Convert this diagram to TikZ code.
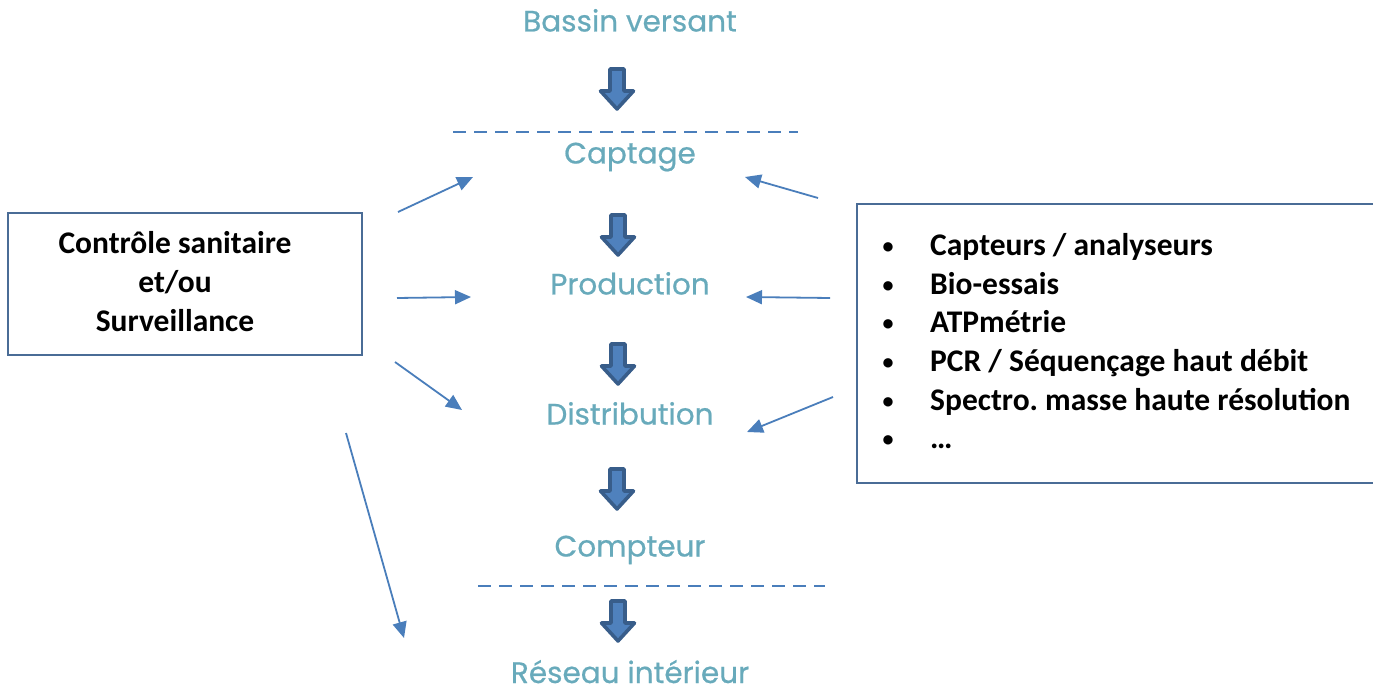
\documentclass[tikz,border=0pt]{standalone}
\usepackage{fontspec}
\setmainfont{Carlito}
\newfontfamily\stagefont[FakeBold=0.6]{Poppins}
\usetikzlibrary{arrows.meta}
\frenchspacing
\definecolor{stage}{HTML}{68AABB}
\definecolor{thinblue}{HTML}{4A7EBB}
\definecolor{arrfill}{HTML}{4F81BD}
\definecolor{arrline}{HTML}{385D8A}
\definecolor{boxline}{HTML}{4A6C96}
\tikzset{
  stagelabel/.style={text=stage, font=\stagefont\fontsize{29.5}{30}\selectfont, inner sep=0pt, anchor=base},
  thinarrow/.style={draw=thinblue, line width=1.8pt, -{Triangle[length=16pt,width=14pt]}},
  dashline/.style={draw=thinblue, line width=1.6pt, dash pattern=on 13pt off 8pt},
  infobox/.style={draw=boxline, line width=1.8pt, inner sep=0pt},
  boxtext/.style={font=\bfseries\fontsize{31.5}{39}\selectfont, align=center, inner sep=0pt},
  itemtext/.style={font=\bfseries\fontsize{31.5}{38}\selectfont, inner sep=0pt, anchor=base west},
  bullettext/.style={font=\bfseries\fontsize{22}{22}\selectfont, inner sep=0pt, anchor=base},
  downarrow/.pic={
    \draw[fill=arrfill, draw=arrline, line width=3.6pt, line join=round]
      (-7,0) -- (7,0) -- (7,22) -- (16.5,22) -- (0,40) -- (-16.5,22) -- (-7,22) -- cycle;
  }
}
\begin{document}
\begin{tikzpicture}[x=1pt,y=-1pt]
\useasboundingbox (0,0) rectangle (1373,692);

% stage labels
\node[stagelabel] (bv) at (630,31.5) {Bassin versant};
\node[stagelabel] (cap) at (630,163.5) {Captage};
\node[stagelabel] (prod) at (630,294.5) {Production};
\node[stagelabel] (dist) at (630,424.5) {Distribution};
\node[stagelabel] (compt) at (630,556.5) {Compteur};
\node[stagelabel] (res) at (630,683) {Réseau intérieur};

% block arrows
\pic at (617,69) {downarrow};
\pic at (618,215) {downarrow};
\pic at (618,344) {downarrow};
\pic at (617,469) {downarrow};
\pic at (618,601) {downarrow};

% dashed lines
\coordinate (d1a) at (453,132); \coordinate (d1b) at (798,132);
\coordinate (d2a) at (478,586); \coordinate (d2b) at (825,586);
\draw[dashline] (d1a) -- (d1b);
\draw[dashline] (d2a) -- (d2b);

% left box
\node[infobox, minimum width=354pt, minimum height=142pt] (lbox) at (185,284) {};
\node[boxtext] (ltext) at (175,282) {Contrôle sanitaire\\et/ou\\Surveillance};

% right box
\node[infobox, minimum width=530pt, minimum height=279pt] (rbox) at (1122,343.5) {};
\node[bullettext] (b1) at (888,254) {•};
\node[itemtext] (t1) at (930,256) {Capteurs / analyseurs};
\node[bullettext] (b2) at (888,292.5) {•};
\node[itemtext] (t2) at (930,294.5) {Bio-essais};
\node[bullettext] (b3) at (888,331) {•};
\node[itemtext] (t3) at (930,333) {ATPmétrie};
\node[bullettext] (b4) at (888,369.5) {•};
\node[itemtext] (t4) at (930,371.5) {PCR / Séquençage haut débit};
\node[bullettext] (b5) at (888,408) {•};
\node[itemtext] (t5) at (930,410) {Spectro. masse haute résolution};
\node[bullettext] (b6) at (888,446.5) {•};
\node[itemtext] (t6) at (930,448.5) {…};

% thin arrows, left
\coordinate (l1s) at (398,212); \coordinate (l1e) at (473,177);
\coordinate (l2s) at (397,298); \coordinate (l2e) at (471,297);
\coordinate (l3s) at (395,362); \coordinate (l3e) at (462,410);
\coordinate (l4s) at (346,433); \coordinate (l4e) at (404,638);
\draw[thinarrow] (l1s) -- (l1e);
\draw[thinarrow] (l2s) -- (l2e);
\draw[thinarrow] (l3s) -- (l3e);
\draw[thinarrow] (l4s) -- (l4e);

% thin arrows, right
\coordinate (r1s) at (818,198); \coordinate (r1e) at (745,177);
\coordinate (r2s) at (830,298); \coordinate (r2e) at (746,297);
\coordinate (r3s) at (833,397); \coordinate (r3e) at (747,432);
\draw[thinarrow] (r1s) -- (r1e);
\draw[thinarrow] (r2s) -- (r2e);
\draw[thinarrow] (r3s) -- (r3e);
\end{tikzpicture}
\end{document}
